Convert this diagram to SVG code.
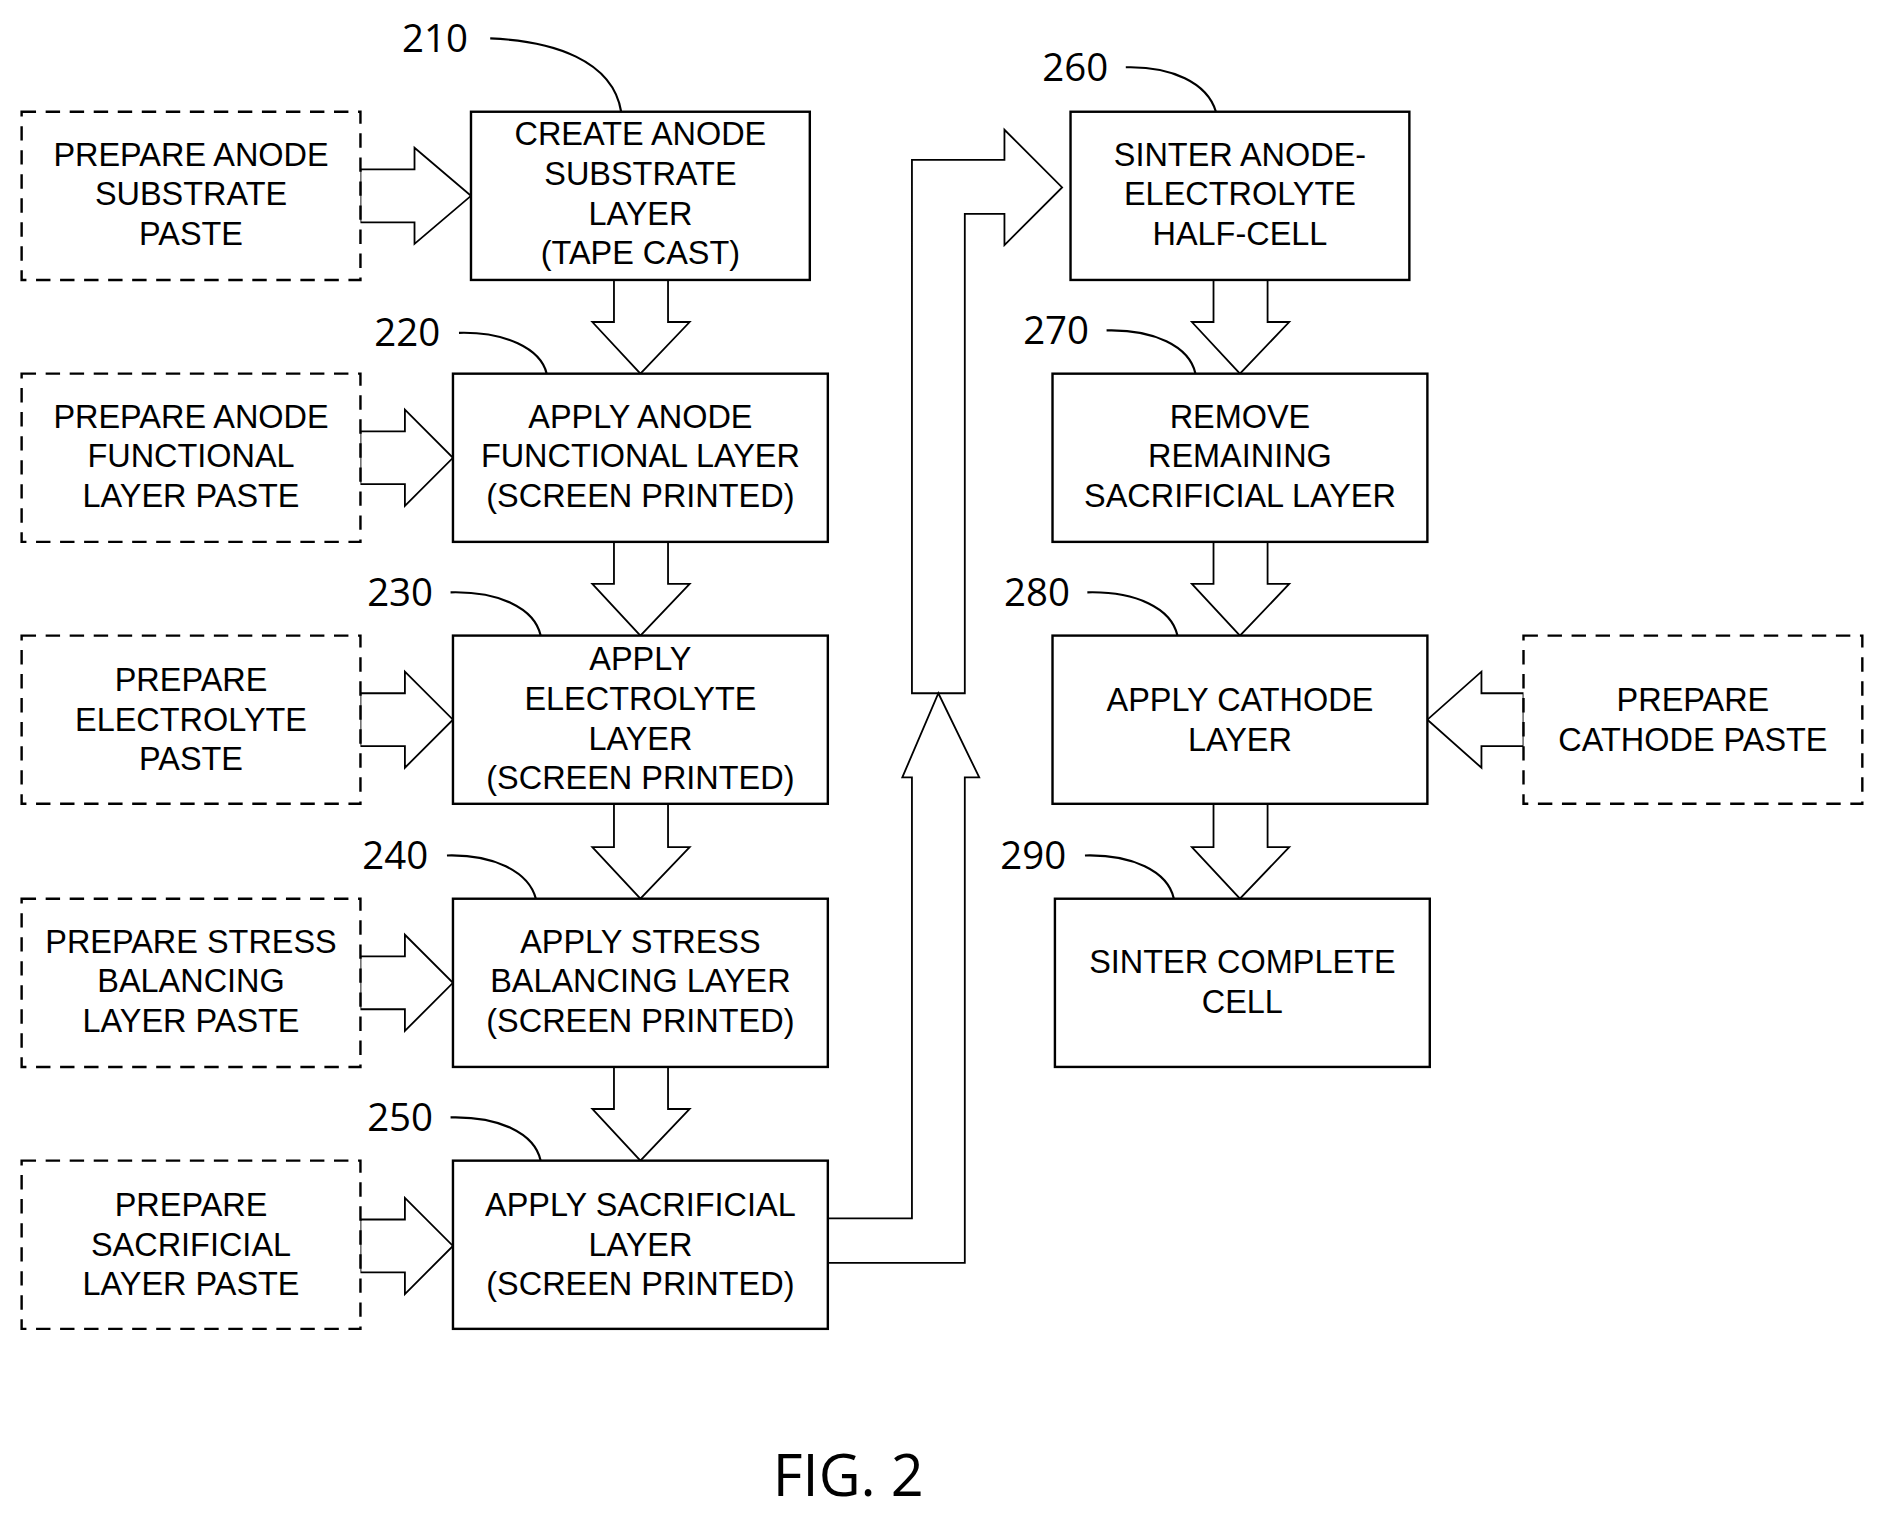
<svg xmlns="http://www.w3.org/2000/svg" width="1884" height="1519" viewBox="0 0 1884 1519">
<style>
.b{fill:#fff;stroke:#000;stroke-width:2}
.d{fill:#fff;stroke:#000;stroke-width:2;stroke-dasharray:12 8}
.a{fill:#fff;stroke:#000;stroke-width:1.5}
.o{fill:none;stroke:#000;stroke-width:1.5}
.t{font-family:"Liberation Sans",Arial,sans-serif;font-size:27px;text-anchor:middle;fill:#000}
.n{font-family:"Open Sans","Liberation Sans",sans-serif;font-size:32px;text-anchor:middle;fill:#000}
.l{fill:none;stroke:#000;stroke-width:1.8}
</style>
<rect width="1884" height="1519" fill="#fff"/>
<g transform="scale(1.2015)">
<g id="connectors">
<path class="a" d="M300,141H345V123L392,163L345,203V185H300Z"/>
<path class="a" d="M300,359H337V341L377,381L337,421V403H300Z"/>
<path class="a" d="M300,577H337V559L377,599L337,639V621H300Z"/>
<path class="a" d="M300,796H337V778L377,818L337,858V840H300Z"/>
<path class="a" d="M300,1015H337V997L377,1037L337,1077V1059H300Z"/>
<path class="a" d="M1268,577H1233V559L1188,599L1233,639V621H1268Z"/>
<path class="a" d="M511,233V268H493L533,311L574,268H556V233Z"/>
<path class="a" d="M511,451V486H493L533,529L574,486H556V451Z"/>
<path class="a" d="M511,669V705H493L533,748L574,705H556V669Z"/>
<path class="a" d="M511,888V923H493L533,966L574,923H556V888Z"/>
<path class="a" d="M1010,233V268H992L1032,311L1073,268H1055V233Z"/>
<path class="a" d="M1010,451V486H992L1032,529L1073,486H1055V451Z"/>
<path class="a" d="M1010,669V705H992L1032,748L1073,705H1055V669Z"/>
<path class="o" d="M690,1014H759V647H751L781,577L815,647H803V1051H690"/>
<path class="o" d="M759,577V133H836V108L884,156L836,204V178H803V577Z"/>
<path class="l" d="M408,32C460,34 510,50 517,93"/>
<path class="l" d="M382,277C420,276 450,290 455,311"/>
<path class="l" d="M375,493C415,492 445,506 450,529"/>
<path class="l" d="M372,712C410,711 440,725 446,748"/>
<path class="l" d="M375,930C415,929 445,943 450,966"/>
<path class="l" d="M937,56C975,55 1005,69 1012,93"/>
<path class="l" d="M921,275C960,274 990,288 995,311"/>
<path class="l" d="M905,493C945,492 975,506 980,529"/>
<path class="l" d="M903,712C942,711 972,725 977,748"/>
</g>
<g id="p1"><rect class="d" x="18" y="93" width="282" height="140"/><text class="t" x="159" y="138">PREPARE ANODE</text><text class="t" x="159" y="171">SUBSTRATE</text><text class="t" x="159" y="204">PASTE</text></g>
<g id="p2"><rect class="d" x="18" y="311" width="282" height="140"/><text class="t" x="159" y="356">PREPARE ANODE</text><text class="t" x="159" y="389">FUNCTIONAL</text><text class="t" x="159" y="422">LAYER PASTE</text></g>
<g id="p3"><rect class="d" x="18" y="529" width="282" height="140"/><text class="t" x="159" y="575">PREPARE</text><text class="t" x="159" y="608">ELECTROLYTE</text><text class="t" x="159" y="641">PASTE</text></g>
<g id="p4"><rect class="d" x="18" y="748" width="282" height="140"/><text class="t" x="159" y="793">PREPARE STRESS</text><text class="t" x="159" y="826">BALANCING</text><text class="t" x="159" y="859">LAYER PASTE</text></g>
<g id="p5"><rect class="d" x="18" y="966" width="282" height="140"/><text class="t" x="159" y="1012">PREPARE</text><text class="t" x="159" y="1045">SACRIFICIAL</text><text class="t" x="159" y="1078">LAYER PASTE</text></g>
<g id="s210"><rect class="b" x="392" y="93" width="282" height="140"/><text class="t" x="533" y="121">CREATE ANODE</text><text class="t" x="533" y="154">SUBSTRATE</text><text class="t" x="533" y="187">LAYER</text><text class="t" x="533" y="220">(TAPE CAST)</text><text class="n" x="362" y="43">210</text></g>
<g id="s220"><rect class="b" x="377" y="311" width="312" height="140"/><text class="t" x="533" y="356">APPLY ANODE</text><text class="t" x="533" y="389">FUNCTIONAL LAYER</text><text class="t" x="533" y="422">(SCREEN PRINTED)</text><text class="n" x="339" y="288">220</text></g>
<g id="s230"><rect class="b" x="377" y="529" width="312" height="140"/><text class="t" x="533" y="558">APPLY</text><text class="t" x="533" y="591">ELECTROLYTE</text><text class="t" x="533" y="624">LAYER</text><text class="t" x="533" y="657">(SCREEN PRINTED)</text><text class="n" x="333" y="504">230</text></g>
<g id="s240"><rect class="b" x="377" y="748" width="312" height="140"/><text class="t" x="533" y="793">APPLY STRESS</text><text class="t" x="533" y="826">BALANCING LAYER</text><text class="t" x="533" y="859">(SCREEN PRINTED)</text><text class="n" x="329" y="723">240</text></g>
<g id="s250"><rect class="b" x="377" y="966" width="312" height="140"/><text class="t" x="533" y="1012">APPLY SACRIFICIAL</text><text class="t" x="533" y="1045">LAYER</text><text class="t" x="533" y="1078">(SCREEN PRINTED)</text><text class="n" x="333" y="941">250</text></g>
<g id="s260"><rect class="b" x="891" y="93" width="282" height="140"/><text class="t" x="1032" y="138">SINTER ANODE-</text><text class="t" x="1032" y="171">ELECTROLYTE</text><text class="t" x="1032" y="204">HALF-CELL</text><text class="n" x="895" y="67">260</text></g>
<g id="s270"><rect class="b" x="876" y="311" width="312" height="140"/><text class="t" x="1032" y="356">REMOVE</text><text class="t" x="1032" y="389">REMAINING</text><text class="t" x="1032" y="422">SACRIFICIAL LAYER</text><text class="n" x="879" y="286">270</text></g>
<g id="s280"><rect class="b" x="876" y="529" width="312" height="140"/><text class="t" x="1032" y="592">APPLY CATHODE</text><text class="t" x="1032" y="625">LAYER</text><text class="n" x="863" y="504">280</text></g>
<g id="p6"><rect class="d" x="1268" y="529" width="282" height="140"/><text class="t" x="1409" y="592">PREPARE</text><text class="t" x="1409" y="625">CATHODE PASTE</text></g>
<g id="s290"><rect class="b" x="878" y="748" width="312" height="140"/><text class="t" x="1034" y="810">SINTER COMPLETE</text><text class="t" x="1034" y="843">CELL</text><text class="n" x="860" y="723">290</text></g>
<text x="706" y="1245" font-family="Open Sans, Liberation Sans, sans-serif" font-size="48" text-anchor="middle">FIG. 2</text>
</g>
</svg>
